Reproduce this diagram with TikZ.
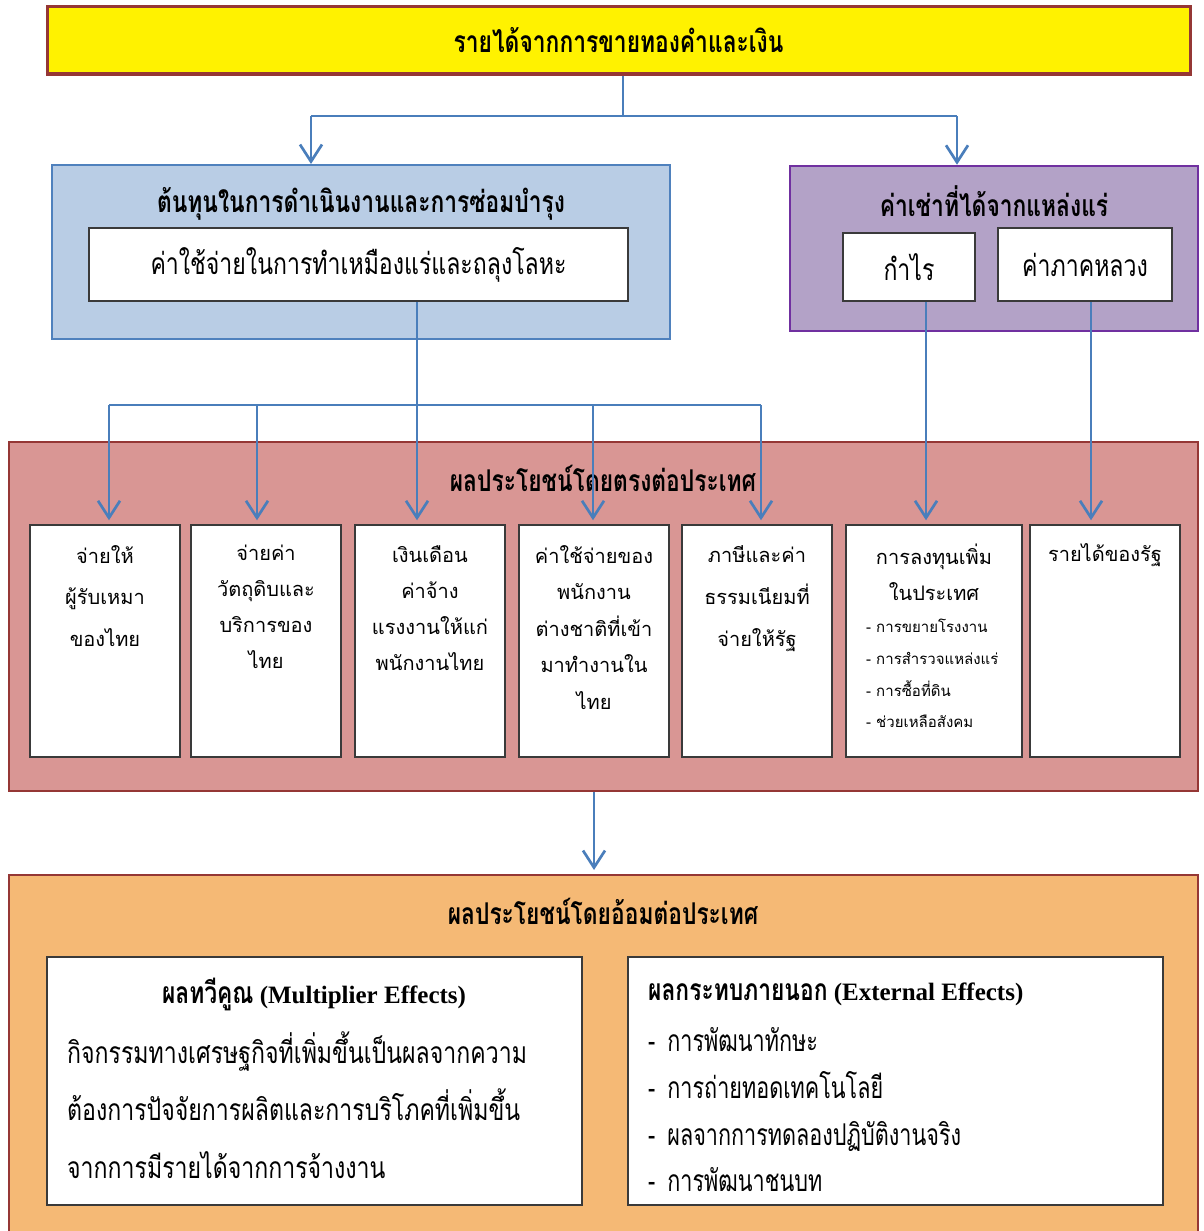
\documentclass[tikz,border=0pt]{standalone}
\usepackage{fontspec}
\setmainfont{Liberation Serif}
\newfontfamily\thai[Script=Thai]{Loma}
\newfontfamily\thain[Script=Thai,FakeStretch=0.77]{Loma}
\newfontfamily\thainn[Script=Thai,FakeStretch=0.72]{Loma}
\newfontfamily\thaib[Script=Thai,FakeStretch=0.76]{Loma}
\usetikzlibrary{positioning,arrows.meta}

\definecolor{linkblue}{HTML}{4A7EBB}
\definecolor{darkred}{HTML}{953735}
\definecolor{costfill}{HTML}{B9CDE5}
\definecolor{costline}{HTML}{4F81BD}
\definecolor{rentfill}{HTML}{B3A2C7}
\definecolor{rentline}{HTML}{7030A0}
\definecolor{directfill}{HTML}{D99694}
\definecolor{indirectfill}{HTML}{F5B975}
\definecolor{boxgrey}{HTML}{3A3A3A}

\tikzset{
  panel/.style={draw, line width=2pt, inner sep=0pt},
  whitebox/.style={draw=boxgrey, fill=white, line width=1.5pt, inner sep=0pt},
  head/.style={font=\thaib\bfseries\fontsize{30}{34}\selectfont, inner sep=0pt},
  plain/.style={font=\thain\fontsize{30}{34}\selectfont, inner sep=0pt},
  celltext/.style={font=\thai\fontsize{20}{36}\selectfont, align=center, inner sep=0pt, anchor=north},
  link/.style={draw=linkblue, line width=2.7pt},
  arrow/.style={link, -{Straight Barb[length=17pt,width=22pt]}}
}

\begin{document}
\begin{tikzpicture}[x=1pt,y=-1pt]
\useasboundingbox (0,0) rectangle (1204,1231);

% top
\node[panel, draw=darkred, fill=yellow, line width=3pt, minimum width=1143pt, minimum height=67pt, head] (top) at (618.5,40.5) {รายได้จากการขายทองคำและเงิน};

% cost and rent
\node[panel, draw=costline, fill=costfill, minimum width=618pt, minimum height=174pt] (cost) at (361,252) {};
\node[head] (costT) at (361,204) {ต้นทุนในการดำเนินงานและการซ่อมบำรุง};
\node[whitebox, minimum width=539pt, minimum height=73pt, plain] (mining) at (358.5,264.5) {ค่าใช้จ่ายในการทำเหมืองแร่และถลุงโลหะ};

\node[panel, draw=rentline, fill=rentfill, line width=2.5pt, minimum width=408pt, minimum height=165pt] (rent) at (994,248.5) {};
\node[head] (rentT) at (994,201) {ค่าเช่าที่ได้จากแหล่งแร่};
\node[whitebox, minimum width=132pt, minimum height=68pt, plain] (profit) at (909,267) {กำไร};
\node[whitebox, minimum width=174pt, minimum height=73pt, plain] (royalty) at (1085,264.5) {ค่าภาคหลวง};

% direct benefits
\node[panel, draw=darkred, fill=directfill, minimum width=1189pt, minimum height=349pt] (direct) at (603.5,616.5) {};
\node[head] (directT) at (603,478) {ผลประโยชน์โดยตรงต่อประเทศ};

\node[whitebox, minimum width=150pt, minimum height=232pt] (b1) at (105,641) {};
\node[whitebox, minimum width=150pt, minimum height=232pt] (b2) at (266,641) {};
\node[whitebox, minimum width=150pt, minimum height=232pt] (b3) at (430,641) {};
\node[whitebox, minimum width=150pt, minimum height=232pt] (b4) at (594,641) {};
\node[whitebox, minimum width=150pt, minimum height=232pt] (b5) at (757,641) {};
\node[whitebox, minimum width=176pt, minimum height=232pt] (b6) at (934,641) {};
\node[whitebox, minimum width=150pt, minimum height=232pt] (b7) at (1105,641) {};

\node[celltext, font=\thai\fontsize{20}{41.5}\selectfont, below=21pt of b1.north] (t1) {จ่ายให้\\ผู้รับเหมา\\ของไทย};
\node[celltext, below=21pt of b2.north] (t2) {จ่ายค่า\\วัตถุดิบและ\\บริการของ\\ไทย};
\node[celltext, below=21pt of b3.north] (t3) {เงินเดือน\\ค่าจ้าง\\แรงงานให้แก่\\พนักงานไทย};
\node[celltext, font=\thai\fontsize{20}{36.5}\selectfont, below=21pt of b4.north] (t4) {ค่าใช้จ่ายของ\\พนักงาน\\ต่างชาติที่เข้า\\มาทำงานใน\\ไทย};
\node[celltext, font=\thai\fontsize{20}{42}\selectfont, below=21pt of b5.north] (t5) {ภาษีและค่า\\ธรรมเนียมที่\\จ่ายให้รัฐ};
\node[celltext, below=19pt of b6.north] (t6) {การลงทุนเพิ่ม\\ในประเทศ};
\node[celltext, font=\thai\fontsize{15}{31.7}\selectfont, align=left, anchor=north west] (t6l) at (866,619) {- การขยายโรงงาน\\- การสำรวจแหล่งแร่\\- การซื้อที่ดิน\\- ช่วยเหลือสังคม};
\node[celltext, below=19pt of b7.north] (t7) {รายได้ของรัฐ};

% indirect benefits
\node[panel, draw=darkred, fill=indirectfill, minimum width=1189pt, minimum height=370pt] (indirect) at (603.5,1060) {};
\node[head] (indirectT) at (603,911) {ผลประโยชน์โดยอ้อมต่อประเทศ};

\node[whitebox, minimum width=535pt, minimum height=248pt] (multi) at (314.5,1081) {};
\node[whitebox, minimum width=535pt, minimum height=248pt] (extern) at (895.5,1081) {};

\node[head, font=\bfseries\fontsize{25}{28}\selectfont] (multiT) at (314,994) {{\thaib\fontsize{30}{34}\selectfont ผลทวีคูณ} (Multiplier Effects)};
\node[plain, font=\thain\fontsize{30}{57.5}\selectfont, align=left, anchor=north west] (multiB) at (67,1031) {กิจกรรมทางเศรษฐกิจที่เพิ่มขึ้นเป็นผลจากความ\\ต้องการปัจจัยการผลิตและการบริโภคที่เพิ่มขึ้น\\จากการมีรายได้จากการจ้างงาน};

\node[head, font=\bfseries\fontsize{25}{28}\selectfont, anchor=west] (externT) at (648,994) {{\thaib\fontsize{30}{34}\selectfont ผลกระทบภายนอก} (External Effects)};
\node[plain, font=\thainn\fontsize{30}{46.7}\selectfont, align=left, anchor=north west] (externB) at (648,1027.5) {-\hspace{12pt}การพัฒนาทักษะ\\-\hspace{12pt}การถ่ายทอดเทคโนโลยี\\-\hspace{12pt}ผลจากการทดลองปฏิบัติงานจริง\\-\hspace{12pt}การพัฒนาชนบท};

% connectors
\coordinate (j0) at (623,116);
\coordinate (ja) at (311,116);
\coordinate (jb) at (957,116);
\draw[link] (top.south -| j0) -- (j0);
\draw[link] (ja) -- (jb);
\draw[arrow] (ja) -- (ja |- cost.north);
\draw[arrow] (jb) -- (jb |- rent.north);

\coordinate (k0) at (417,405);
\coordinate (k1) at (109,405);
\coordinate (k2) at (257,405);
\coordinate (k4) at (593,405);
\coordinate (k5) at (761,405);
\draw[link] (mining.south -| k0) -- (k0);
\draw[link] (k1) -- (k5);
\draw[arrow] (k0) -- ([yshift=4pt]k0 |- b3.north);
\draw[arrow] (k1) -- ([yshift=4pt]k1 |- b1.north);
\draw[arrow] (k2) -- ([yshift=4pt]k2 |- b2.north);
\draw[arrow] (k4) -- ([yshift=4pt]k4 |- b4.north);
\draw[arrow] (k5) -- ([yshift=4pt]k5 |- b5.north);

\coordinate (p0) at (926,301);
\coordinate (r0) at (1091,301);
\draw[arrow] (profit.south -| p0) -- ([yshift=4pt]p0 |- b6.north);
\draw[arrow] (royalty.south -| r0) -- ([yshift=4pt]r0 |- b7.north);

\coordinate (d0) at (594,791);
\draw[arrow] (direct.south -| d0) -- ([yshift=4pt]d0 |- indirect.north);
\end{tikzpicture}
\end{document}
